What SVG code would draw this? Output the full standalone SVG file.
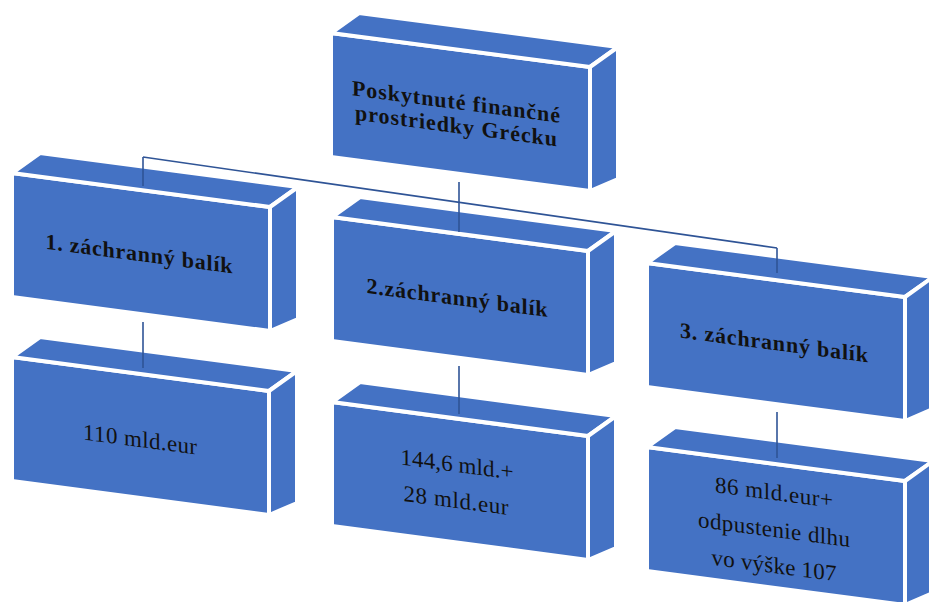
<svg xmlns="http://www.w3.org/2000/svg" width="929" height="602" viewBox="0 0 929 602">
<style>
.f{fill:#4472C4;stroke:#ffffff;stroke-width:4;stroke-linejoin:round}
.c{fill:none;stroke:#2F5496;stroke-width:1.6}
.b{font-family:"Liberation Serif","Times New Roman",serif;font-weight:bold;font-size:22px;fill:#111111;text-anchor:middle}
.r{font-family:"Liberation Serif","Times New Roman",serif;font-size:23px;fill:#111111;text-anchor:middle}
</style>
<rect width="929" height="602" fill="#ffffff"/>
<g id="root">
<polygon class="f" points="331,33 590,67 590,191 331,157"/>
<polygon class="f" points="331,33 359,13 618,47 590,67"/>
<polygon class="f" points="590,67 618,47 618,179 590,191"/>
<text class="b" transform="translate(456,109) skewY(7.5)" textLength="208" lengthAdjust="spacing">Poskytnuté finančné</text>
<text class="b" transform="translate(456,133) skewY(7.5)" textLength="202" lengthAdjust="spacing">prostriedky Grécku</text>
</g>
<g id="balik1">
<polygon class="f" points="12,173 270,207 270,331 12,297"/>
<polygon class="f" points="12,173 40,153 298,187 270,207"/>
<polygon class="f" points="270,207 298,187 298,319 270,331"/>
<text class="b" transform="translate(139,261) skewY(7.5)" textLength="187" lengthAdjust="spacing">1. záchranný balík</text>
</g>
<g id="balik2">
<polygon class="f" points="332,217 588,251 588,375 332,341"/>
<polygon class="f" points="332,217 360,197 616,231 588,251"/>
<polygon class="f" points="588,251 616,231 616,363 588,375"/>
<text class="b" transform="translate(457,305) skewY(7.5)" textLength="181" lengthAdjust="spacing">2.záchranný balík</text>
</g>
<g id="balik3">
<polygon class="f" points="647,263 905,297 905,421 647,387"/>
<polygon class="f" points="647,263 675,243 933,277 905,297"/>
<polygon class="f" points="905,297 933,277 933,409 905,421"/>
<text class="b" transform="translate(774,350) skewY(7.5)" textLength="188" lengthAdjust="spacing">3. záchranný balík</text>
</g>
<g id="suma1">
<polygon class="f" points="12,357 269,391 269,515 12,481"/>
<polygon class="f" points="12,357 40,337 297,371 269,391"/>
<polygon class="f" points="269,391 297,371 297,503 269,515"/>
<text class="r" transform="translate(140,447) skewY(7.5)" textLength="114" lengthAdjust="spacing">110 mld.eur</text>
</g>
<g id="suma2">
<polygon class="f" points="332,402 588,436 588,560 332,526"/>
<polygon class="f" points="332,402 360,382 616,416 588,436"/>
<polygon class="f" points="588,436 616,416 616,548 588,560"/>
<text class="r" transform="translate(457,472) skewY(7.5)" textLength="113" lengthAdjust="spacing">144,6 mld.+</text>
<text class="r" transform="translate(456,508) skewY(7.5)" textLength="105" lengthAdjust="spacing">28 mld.eur</text>
</g>
<g id="suma3">
<polygon class="f" points="647,447 905,481 905,605 647,571"/>
<polygon class="f" points="647,447 675,427 933,461 905,481"/>
<polygon class="f" points="905,481 933,461 933,593 905,605"/>
<text class="r" transform="translate(774,500) skewY(7.5)" textLength="118" lengthAdjust="spacing">86 mld.eur+</text>
<text class="r" transform="translate(774,537) skewY(7.5)" textLength="152" lengthAdjust="spacing">odpustenie dlhu</text>
<text class="r" transform="translate(774,573) skewY(7.5)" textLength="125" lengthAdjust="spacing">vo výške 107</text>
</g>
<g id="connectors">
<path class="c" d="M459,182 V232"/>
<path class="c" d="M143,157 L777,248"/>
<path class="c" d="M143,157 V186"/>
<path class="c" d="M777,248 V273"/>
<path class="c" d="M143,322 V368"/>
<path class="c" d="M459,366 V414"/>
<path class="c" d="M777,412 V458"/>
</g>
</svg>
